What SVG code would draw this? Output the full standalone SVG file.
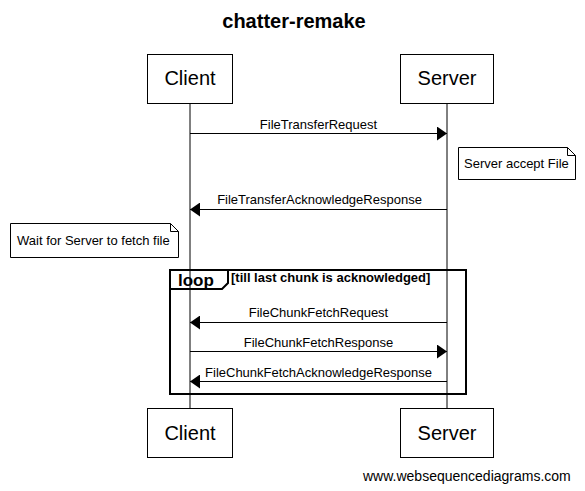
<svg xmlns="http://www.w3.org/2000/svg" width="585" height="491" viewBox="0 0 585 491">
<style>
text{font-family:"Liberation Sans",Arial,sans-serif;fill:#000}
.title{font-size:20px;font-weight:bold}
.part{font-size:20px}
.msg{font-size:13px}
.note{font-size:13px}
.box{fill:#fff;stroke:#000;stroke-width:1}
.life{stroke:#000;stroke-width:1}
.arrow{stroke:#000;stroke-width:1;fill:none;marker-end:url(#ah)}
.loop{fill:none;stroke:#000;stroke-width:2}
.footer{font-size:14px}
</style>
<defs>
<marker id="ah" markerUnits="userSpaceOnUse" markerWidth="10" markerHeight="14" refX="10" refY="7" orient="auto">
<path d="M0,0 L10,7 L0,14 z" fill="#000"/>
</marker>
</defs>
<rect width="585" height="491" fill="#fff"/>
<text class="title" x="294" y="28" text-anchor="middle">chatter-remake</text>
<g id="lifelines">
<line class="life" x1="190" y1="103" x2="190" y2="408"/>
<line class="life" x1="447" y1="103" x2="447" y2="408"/>
</g>
<g id="client-top"><rect class="box" x="147.5" y="54.5" width="85" height="49"/><text class="part" x="190" y="85" text-anchor="middle">Client</text></g>
<g id="server-top"><rect class="box" x="400.5" y="54.5" width="93" height="49"/><text class="part" x="447" y="85" text-anchor="middle">Server</text></g>
<g id="client-bottom"><rect class="box" x="147.5" y="408.5" width="85" height="49"/><text class="part" x="190" y="440" text-anchor="middle">Client</text></g>
<g id="server-bottom"><rect class="box" x="400.5" y="408.5" width="93" height="49"/><text class="part" x="447" y="440" text-anchor="middle">Server</text></g>
<g id="note-server"><path class="box" d="M458.5,147.5 H567.5 L575.5,155.5 V179.5 H458.5 Z M567.5,147.5 V155.5 H575.5"/><text class="note" x="464" y="168">Server accept File</text></g>
<g id="note-client"><path class="box" d="M10.5,223.5 H170.5 L178.5,231.5 V257.5 H10.5 Z M170.5,223.5 V231.5 H178.5"/><text class="note" x="17" y="245">Wait for Server to fetch file</text></g>
<g id="loop">
<rect class="loop" x="170" y="270" width="296" height="124"/>
<path class="loop" d="M170,270 V289 H222 L228,283 V270"/>
<text x="178" y="286" style="font-size:17px;font-weight:bold">loop</text>
<text x="231" y="282" style="font-size:13px;font-weight:bold">[till last chunk is acknowledged]</text>
</g>
<g id="connectors">
<line class="arrow" x1="190" y1="133.5" x2="447" y2="133.5"/>
<text class="msg" x="318.5" y="129" text-anchor="middle">FileTransferRequest</text>
<line class="arrow" x1="447" y1="209.5" x2="190" y2="209.5"/>
<text class="msg" x="319.5" y="204" text-anchor="middle">FileTransferAcknowledgeResponse</text>
<line class="arrow" x1="447" y1="322.5" x2="190" y2="322.5"/>
<text class="msg" x="318.5" y="317" text-anchor="middle">FileChunkFetchRequest</text>
<line class="arrow" x1="190" y1="351.5" x2="447" y2="351.5"/>
<text class="msg" x="318.5" y="347" text-anchor="middle">FileChunkFetchResponse</text>
<line class="arrow" x1="447" y1="381.5" x2="190" y2="381.5"/>
<text class="msg" x="318.5" y="377" text-anchor="middle">FileChunkFetchAcknowledgeResponse</text>
</g>
<text class="footer" x="363" y="481">www.websequencediagrams.com</text>
</svg>
